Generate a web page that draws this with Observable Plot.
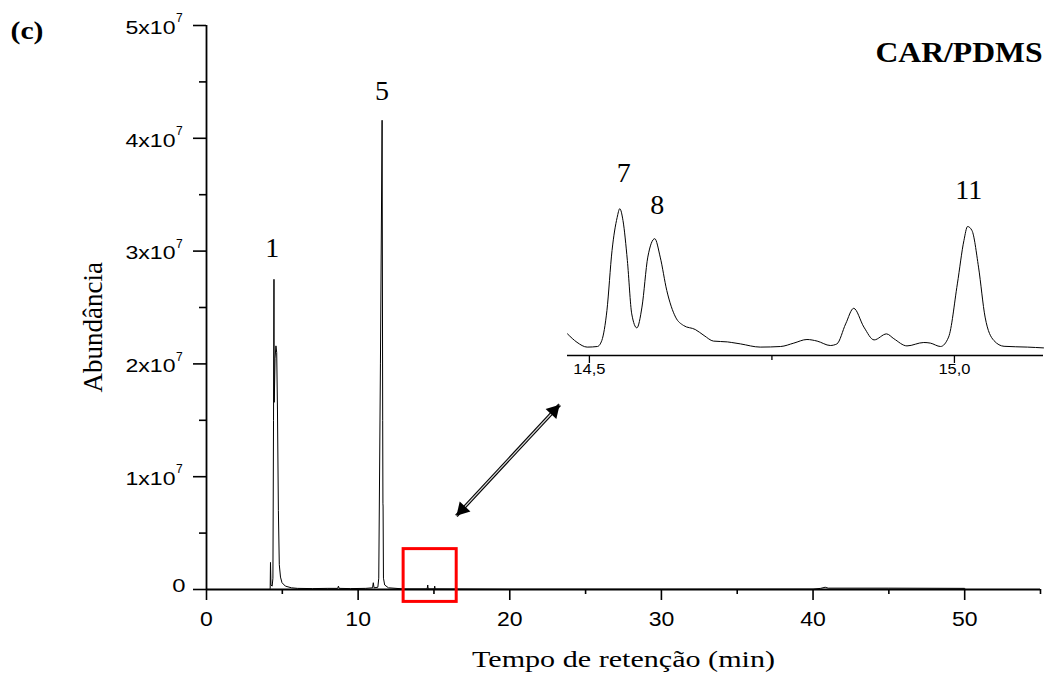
<!DOCTYPE html>
<html>
<head>
<meta charset="utf-8">
<script src="https://cdn.jsdelivr.net/npm/d3@7"></script>
<script src="https://cdn.jsdelivr.net/npm/@observablehq/plot@0.6"></script>
<style>
  html, body { margin: 0; padding: 0; background: white; }
  #wrap { position: relative; width: 1045px; height: 677px; background: white; overflow: hidden; }
  #inset { position: absolute; left: 560px; top: 140px; }
</style>
</head>
<body>
<div id="wrap"><div id="main"></div><div id="inset"></div></div>
<script>
// ---- main chromatogram (retention time in min, abundance) ----
const mainTime = [2.6, 4.15, 4.20, 4.22, 4.25, 4.33, 4.38, 4.42, 4.45, 4.46, 4.47, 4.52, 4.58, 4.63, 4.68, 4.74, 4.80, 4.88, 4.98, 5.2, 5.6, 6.0, 7.0, 8.0, 8.65, 8.7, 8.75, 9.5, 10.5, 10.95, 11.0, 11.05, 11.30, 11.36, 11.47, 11.58, 11.62, 11.635, 11.645, 11.67, 11.75, 12.0, 13.0, 14.55, 14.59, 14.62, 15.02, 15.05, 15.08, 20, 30, 40, 40.5, 40.8, 41.0, 45, 50, 50.05];
const mainAbund = [0, 0, 1e5, 2.4e6, 4e5, 3e5, 1.0e6, 1.5e7, 2.75e7, 1.66e7, 1.66e7, 2.05e7, 2.16e7, 2.1e7, 1.6e7, 7e6, 2.2e6, 1.1e6, 6e5, 3e5, 1.5e5, 1e5, 8e4, 1e5, 1e5, 3e5, 1e5, 8e4, 1e5, 1.5e5, 6e5, 1.5e5, 2e5, 1e6, 2.0e7, 4.16e7, 1.5e7, 7.6e6, 7.4e6, 1e6, 4e5, 1.5e5, 5e4, 5e4, 4e5, 5e4, 5e4, 3e5, 5e4, 2e4, 2e4, 3e4, 1e5, 2e5, 1.2e5, 1.2e5, 1e5, 0];

// ---- inset (zoom 14.47 - 15.12 min) ----
const insetTime = [14.470, 14.483, 14.497, 14.511, 14.517, 14.524, 14.531, 14.538, 14.5416, 14.546, 14.552, 14.558, 14.565, 14.572, 14.580, 14.5895, 14.597, 14.606, 14.618, 14.629, 14.645, 14.657, 14.670, 14.689, 14.695, 14.707, 14.734, 14.762, 14.780, 14.798, 14.812, 14.830, 14.839, 14.851, 14.862, 14.876, 14.890, 14.907, 14.917, 14.935, 14.958, 14.967, 14.981, 14.992, 15.004, 15.013, 15.018, 15.024, 15.033, 15.042, 15.054, 15.068, 15.100, 15.122];
const insetAbund = [54000, 33000, 21000, 22500, 37500, 112500, 262500, 345000, 367000, 337500, 237500, 104000, 69000, 121000, 246000, 292000, 246000, 162500, 96000, 75000, 65000, 50000, 36000, 34000, 32500, 29000, 21000, 22500, 31000, 40000, 36000, 25000, 29000, 79000, 118000, 71000, 39000, 54000, 42000, 24000, 32500, 31000, 22500, 46000, 179000, 287500, 322500, 312500, 221000, 96000, 37500, 23000, 21000, 19000];

// ---- ticks ----
const xMajor = [0, 10, 20, 30, 40, 50];
const xMinor = [5, 15, 25, 35, 45, 55];
const yMajor = [0, 1e7, 2e7, 3e7, 4e7, 5e7];
const yMinor = [0.5e7, 1.5e7, 2.5e7, 3.5e7, 4.5e7];
const insetMajor = [14.5, 15.0];
const insetMinor = [14.75];

// ---- peak labels ----
const mainPeakLabels = ["1", "5"];
const mainPeakTime = [4.33, 11.57];
const mainPeakAbund = [2.945e7, 4.34e7];
const insetPeakLabels = ["7", "8", "11"];
const insetPeakTime = [14.547, 14.593, 15.0196];
const insetPeakAbund = [433000, 354000, 392000];

// ---- annotations ----
const boxTime = [13.0, 16.5];
const boxAbund = [-1.1e6, 3.58e6];
const arrowTime = [16.48, 23.29];
const arrowAbund = [0.653e7, 1.638e7];

const mainData = mainTime.map((t, i) => ({t, v: mainAbund[i]}));
const insetData = insetTime.map((t, i) => ({t, v: insetAbund[i]}));
const mainPeaks = mainPeakLabels.map((label, i) => ({label, t: mainPeakTime[i], v: mainPeakAbund[i]}));
const insetPeaks = insetPeakLabels.map((label, i) => ({label, t: insetPeakTime[i], v: insetPeakAbund[i]}));

const SANS = "'Liberation Sans', Arial, sans-serif";
const SERIF = "'Liberation Serif', 'Times New Roman', serif";

const main = Plot.plot({
  width: 1045,
  height: 677,
  marginLeft: 206,
  marginRight: 5,
  marginTop: 25,
  marginBottom: 88,
  style: {background: "white", fontFamily: SANS, overflow: "visible"},
  x: {domain: [0, 55], label: null},
  y: {domain: [0, 5e7], label: null},
  marks: [
    Plot.axisX(xMajor, {tickSize: 11, tickPadding: 11.7, tickFormat: d => String(d), fontSize: 20, fontFamily: SANS, strokeWidth: 1.6, label: null, fill: "black", stroke: "black"}),
    Plot.axisX(xMinor, {tickSize: 5, tickFormat: () => "", strokeWidth: 1.6, label: null, stroke: "black"}),
    Plot.axisY(yMajor, {tickSize: 13, tickFormat: () => "", strokeWidth: 1.6, label: null, stroke: "black"}),
    Plot.axisY(yMinor, {tickSize: 7, tickFormat: () => "", strokeWidth: 1.6, label: null, stroke: "black"}),
    Plot.ruleX([0], {stroke: "black", strokeWidth: 1.8}),
    Plot.ruleY([0], {stroke: "black", strokeWidth: 1.8}),
    Plot.text(yMajor.filter(d => d > 0), {x: 0, y: d => d, text: d => `${d / 1e7}x10`, textAnchor: "end", lineAnchor: "bottom", dx: -31, dy: 8.3, fontSize: 18.6, fontFamily: SANS, fill: "black"}),
    Plot.text(yMajor.filter(d => d > 0), {x: 0, y: d => d, text: () => "7", textAnchor: "start", lineAnchor: "bottom", dx: -30.5, dy: -3.4, fontSize: 12, fontFamily: SANS, fill: "black"}),
    Plot.text(yMajor.filter(d => d === 0), {x: 0, y: d => d, text: () => "0", textAnchor: "end", lineAnchor: "bottom", dx: -21, dy: 2.7, fontSize: 18.6, fontFamily: SANS, fill: "black"}),
    Plot.line(mainData, {x: "t", y: "v", stroke: "black", strokeWidth: 1}),
    Plot.rect([0], {x1: boxTime[0], x2: boxTime[1], y1: boxAbund[0], y2: boxAbund[1], fill: "none", stroke: "#ff0000", strokeWidth: 3}),
    Plot.link([0], {x1: arrowTime[0], y1: arrowAbund[0], x2: arrowTime[1], y2: arrowAbund[1], stroke: "black", strokeWidth: 3.4}),
    Plot.link([0], {x1: arrowTime[0], y1: arrowAbund[0], x2: arrowTime[1], y2: arrowAbund[1], stroke: "#d8d8d8", strokeWidth: 1.2}),
    Plot.dot([0], {x: arrowTime[1], y: arrowAbund[1], symbol: "triangle2", r: 7, fill: "black", stroke: "none", rotate: 42.9, dx: -5.8, dy: 6.2}),
    Plot.dot([0], {x: arrowTime[0], y: arrowAbund[0], symbol: "triangle2", r: 7, fill: "black", stroke: "none", rotate: 222.9, dx: 5.8, dy: -6.2}),
    Plot.text(mainPeaks, {x: "t", y: "v", text: "label", lineAnchor: "bottom", fontSize: 28, fontFamily: SERIF, fill: "black"}),
    Plot.text(["(c)"], {frameAnchor: "top-left", text: d => d, textAnchor: "start", lineAnchor: "bottom", dx: -196, dy: 13.6, fontSize: 26, fontWeight: "bold", fontFamily: SERIF, fill: "black"}),
    Plot.text(["CAR/PDMS"], {frameAnchor: "top-right", text: d => d, textAnchor: "end", lineAnchor: "bottom", dx: 2, dy: 36.7, fontSize: 30, fontWeight: "bold", fontFamily: SERIF, fill: "black"}),
    Plot.text(["Tempo de retenção (min)"], {frameAnchor: "bottom", text: d => d, textAnchor: "middle", lineAnchor: "bottom", dy: 77.7, fontSize: 22.5, fontFamily: SERIF, fill: "black"}),
    Plot.text(["Abundância"], {x: -6.875, y: 2.324e7, text: d => d, rotate: -90, textAnchor: "middle", lineAnchor: "bottom", fontSize: 27, fontFamily: SERIF, fill: "black"})
  ]
});
document.getElementById("main").appendChild(main);

const inset = Plot.plot({
  width: 485,
  height: 250,
  marginLeft: 7,
  marginRight: 2,
  marginTop: 15,
  marginBottom: 35,
  style: {background: "transparent", fontFamily: SANS, overflow: "visible"},
  x: {domain: [14.47, 15.122], label: null},
  y: {domain: [0, 500000], label: null, axis: null},
  marks: [
    Plot.axisX(insetMajor, {tickSize: 8, tickPadding: 0, tickFormat: d => d.toFixed(1).replace(".", ","), fontSize: 15, fontFamily: SANS, strokeWidth: 1.3, label: null, fill: "black", stroke: "black"}),
    Plot.axisX(insetMinor, {tickSize: 5, tickFormat: () => "", strokeWidth: 1.3, label: null, stroke: "black"}),
    Plot.ruleY([0], {stroke: "black", strokeWidth: 1.5}),
    Plot.line(insetData, {x: "t", y: "v", stroke: "black", strokeWidth: 1, curve: "monotone-x"}),
    Plot.text(insetPeaks, {x: "t", y: "v", text: "label", lineAnchor: "bottom", fontSize: 28, fontFamily: SERIF, fill: "black"})
  ]
});
document.getElementById("inset").appendChild(inset);

// horizontal stretch of text to match the reference's proportions
const xTickSet = new Set(xMajor.map(String));
d3.select(main).selectAll("text").each(function () {
  const s = this.textContent;
  const L = this.getComputedTextLength();
  let target = null;
  if (/x10$/.test(s)) target = L * 1.24;
  else if (s === "7" && +this.getAttribute("font-size") === 12) target = L * 1.3;
  else if (s === "(c)") target = 33;
  else if (s === "CAR/PDMS") target = 167;
  else if (s.startsWith("Tempo")) target = 303;
  else if (xTickSet.has(s) && this.closest('g[aria-label="x-axis tick label"]')) target = L * 1.15;
  else if (s === "0") target = L * 1.28;
  if (target && L > 0) {
    this.setAttribute("textLength", target);
    this.setAttribute("lengthAdjust", "spacingAndGlyphs");
  }
});
d3.select(inset).selectAll("text").each(function () {
  const s = this.textContent;
  const L = this.getComputedTextLength();
  if (s.includes(",") && L > 0) {
    this.setAttribute("textLength", L * 1.1);
    this.setAttribute("lengthAdjust", "spacingAndGlyphs");
  }
});
</script>
</body>
</html>
